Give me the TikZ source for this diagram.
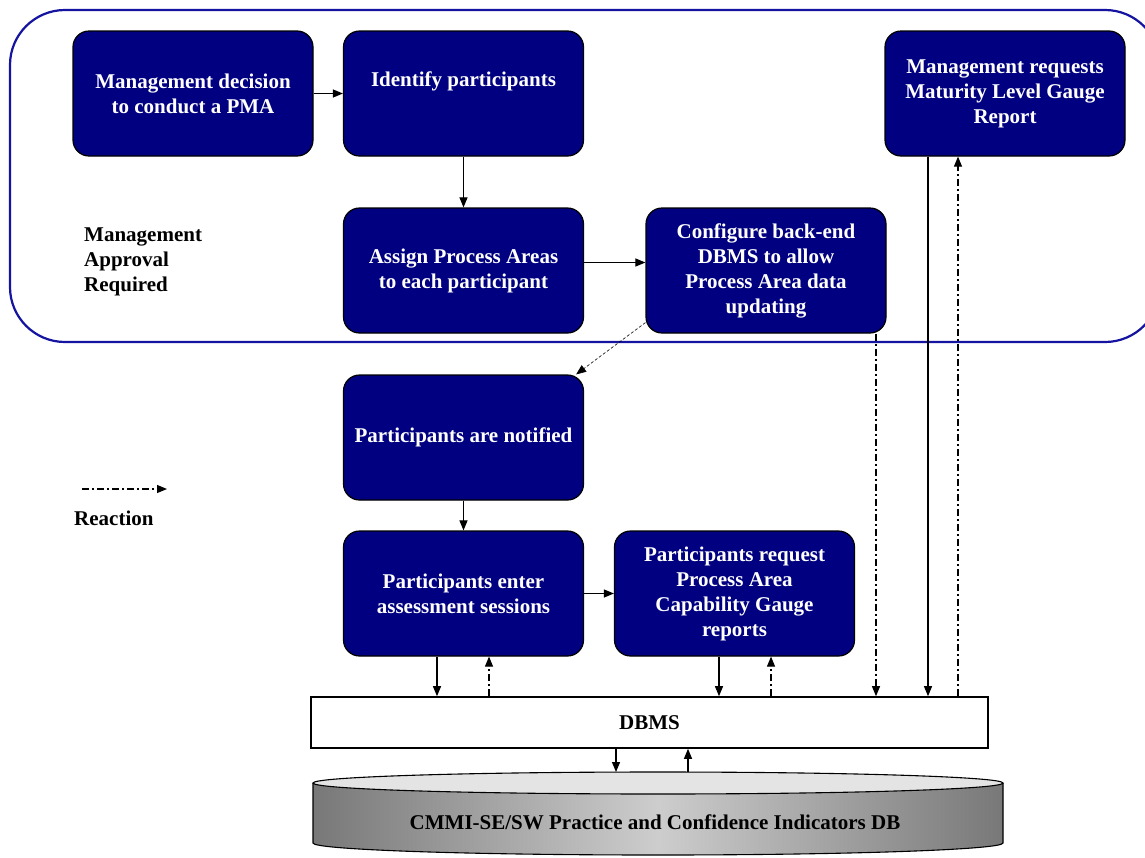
\documentclass[tikz,border=0pt]{standalone}
\usepackage{fontspec}
\setmainfont{Liberation Serif}
\usetikzlibrary{arrows.meta,calc}
\definecolor{navy}{RGB}{0,0,128}
\definecolor{framecol}{RGB}{20,20,160}
\definecolor{dbdark}{RGB}{120,120,120}
\definecolor{dblight}{RGB}{205,205,205}
\definecolor{dbtopcol}{RGB}{228,228,228}
\begin{document}
\begin{tikzpicture}[x=1pt,y=-1pt,
  pbox/.style={draw=black, line width=1.2pt, fill=navy, rounded corners=16pt,
    minimum width=240pt, minimum height=125pt, inner sep=0pt, text=white,
    font=\bfseries\fontsize{21}{25}\selectfont, align=center},
  btext/.style={inner sep=0pt, text=white, font=\bfseries\fontsize{21}{25}\selectfont, align=center},
  lbl/.style={inner sep=0pt, text=black, font=\bfseries\fontsize{21}{25}\selectfont, align=left},
  arr/.style={-{Triangle[length=10pt,width=8pt]}, line width=1.1pt},
  react/.style={arr, dash pattern=on 7pt off 3pt on 2pt off 3pt},
  notify/.style={-{Triangle[length=10pt,width=8pt]}, line width=0.6pt, dash pattern=on 3pt off 2pt}
]
\useasboundingbox (0,0) rectangle (1145,857);
\clip (0,0) rectangle (1145,857);
\fill[white] (0,0) rectangle (1145,857);

% approval frame
\draw[framecol, line width=2.2pt, rounded corners=55pt] (10,10) rectangle (1160,342);

% process boxes
\node[pbox] (b1) at (193,93.5) {Management decision\\to conduct a PMA};
\node[pbox] (b2) at (463.5,93.5) {};
\node[btext] (b2t) at (463.5,81) {Identify participants};
\node[pbox] (b3) at (463.5,270.5) {Assign Process Areas\\to each participant};
\node[pbox] (b4) at (766,270.5) {Configure back-end\\DBMS to allow\\Process Area data\\updating};
\node[pbox] (b5) at (1005,93.5) {Management requests\\Maturity Level Gauge\\Report};
\node[pbox] (b6) at (463.5,437.5) {Participants are notified};
\node[pbox] (b7) at (463.5,593.5) {Participants enter\\assessment sessions};
\node[pbox] (b8) at (734.5,593.5) {Participants request\\Process Area\\Capability Gauge\\reports};

% labels
\node[lbl, anchor=west] (mar) at (84,262) {Management\\Approval\\Required};
\node[lbl, anchor=west] (reac) at (74,518) {Reaction};
\coordinate (lg1) at (82,489);
\coordinate (lg2) at (167,489);
\draw[react] (lg1) -- (lg2);

% DBMS
\node[draw=black, line width=1.6pt, fill=white, minimum width=677pt, minimum height=51pt,
  inner sep=0pt, font=\bfseries\fontsize{21}{25}\selectfont] (dbms) at (649.5,722.5) {DBMS};

% database cylinder
\path[left color=dbdark, right color=dbdark, middle color=dblight]
  (313,783) -- (313,843) arc[start angle=180, end angle=0, x radius=345, y radius=12] -- (1003,783) -- cycle;
\draw[line width=1.1pt] (313,783) -- (313,843) arc[start angle=180, end angle=0, x radius=345, y radius=12] -- (1003,783);
\draw[line width=1.1pt, fill=dbtopcol] (658,783) ellipse [x radius=345, y radius=11];
\node[lbl, align=center] (db) at (655,822) {CMMI-SE/SW Practice and Confidence Indicators DB};
\coordinate (dbtop) at (658,772);

% flow connectors
\draw[arr] (b1.east) -- (b2.west);
\draw[arr] (b2.south) -- (b3.north);
\draw[arr] ($(b3.east)+(0,-8)$) -- ($(b4.west)+(0,-8)$);
\draw[notify] ($(b4.south west)+(0,-11)$) -- ($(b6.north east)+(-8,0)$);
\draw[arr] (b6.south) -- (b7.north);
\draw[arr] (b7.east) -- (b8.west);

% connectors to / from DBMS
\coordinate (x1) at (437,0);
\coordinate (x2) at (489,0);
\coordinate (x3) at (719,0);
\coordinate (x4) at (771,0);
\coordinate (x5) at (876,0);
\coordinate (x6) at (928,0);
\coordinate (x7) at (958,0);
\coordinate (x8) at (616,0);
\coordinate (x9) at (688,0);
\draw[arr] (b7.south -| x1) -- (dbms.north -| x1);
\draw[react] (dbms.north -| x2) -- (b7.south -| x2);
\draw[arr] (b8.south -| x3) -- (dbms.north -| x3);
\draw[react] (dbms.north -| x4) -- (b8.south -| x4);
\draw[react] (b4.south -| x5) -- (dbms.north -| x5);
\draw[arr] (b5.south -| x6) -- (dbms.north -| x6);
\draw[react] (dbms.north -| x7) -- (b5.south -| x7);
\draw[arr] (dbms.south -| x8) -- (dbtop -| x8);
\draw[arr] (dbtop -| x9) -- (dbms.south -| x9);
\end{tikzpicture}
\end{document}
